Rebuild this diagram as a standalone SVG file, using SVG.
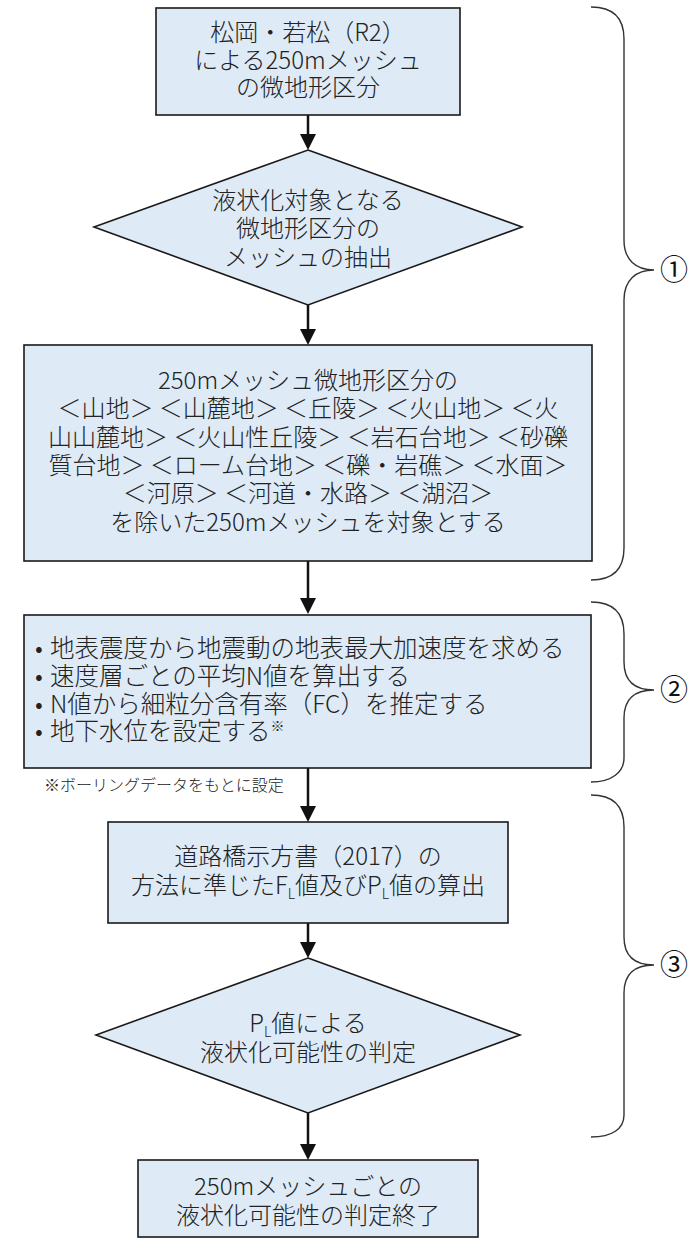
<svg xmlns="http://www.w3.org/2000/svg" width="690" height="1243" viewBox="0 0 690 1243">
<style>
.n{fill:#DEEAF6;stroke:#1a1a1a;stroke-width:1.6}
.t{font-family:"Noto Sans CJK JP","Noto Sans",sans-serif;font-size:24px;font-weight:300;fill:#222;text-anchor:middle}
.l{text-anchor:start;font-size:24.5px}
.fn{font-family:"Noto Sans CJK JP","Noto Sans",sans-serif;font-size:16px;font-weight:300;fill:#222}
.c{stroke:#111;stroke-width:2.5;fill:none}
.b{stroke:#333;stroke-width:1.4;fill:none}
.num{font-family:"Noto Sans CJK JP","Noto Sans",sans-serif;font-size:28px;fill:#111;text-anchor:middle}
.s{font-size:14px}
</style>
<defs>
<marker id="ah" markerWidth="16" markerHeight="16" refX="2" refY="8" orient="auto" markerUnits="userSpaceOnUse" viewBox="0 0 16 16"><path d="M0,0 L16,8 L0,16 z" fill="#111"/></marker>
</defs>
<g id="connectors">
<line class="c" x1="308" y1="115" x2="308" y2="136" marker-end="url(#ah)"/>
<line class="c" x1="308" y1="305" x2="308" y2="331" marker-end="url(#ah)"/>
<line class="c" x1="308" y1="561" x2="308" y2="600" marker-end="url(#ah)"/>
<line class="c" x1="308" y1="768" x2="308" y2="808" marker-end="url(#ah)"/>
<line class="c" x1="308" y1="907" x2="308" y2="944" marker-end="url(#ah)"/>
<line class="c" x1="308" y1="1113" x2="308" y2="1146" marker-end="url(#ah)"/>
</g>
<g id="n1">
<rect class="n" x="156" y="8" width="304" height="107"/>
<text class="t" x="308" y="41">松岡・若松（R2）<tspan x="308" dy="28">による250mメッシュ</tspan><tspan x="308" dy="27">の微地形区分</tspan></text>
</g>
<g id="n2">
<polygon class="n" points="308,150 522,227 308,305 94,227"/>
<text class="t" x="308" y="209">液状化対象となる<tspan x="308" dy="28">微地形区分の</tspan><tspan x="308" dy="29">メッシュの抽出</tspan></text>
</g>
<g id="n3">
<rect class="n" x="24" y="345" width="568" height="216"/>
<text class="t" x="308" y="389">250mメッシュ微地形区分の<tspan x="308" dy="28">＜山地＞ ＜山麓地＞ ＜丘陵＞ ＜火山地＞ ＜火</tspan><tspan x="308" dy="29">山山麓地＞ ＜火山性丘陵＞ ＜岩石台地＞ ＜砂礫</tspan><tspan x="308" dy="28">質台地＞ ＜ローム台地＞ ＜礫・岩礁＞ ＜水面＞</tspan><tspan x="308" dy="28">＜河原＞ ＜河道・水路＞ ＜湖沼＞</tspan><tspan x="308" dy="29">を除いた250mメッシュを対象とする</tspan></text>
</g>
<g id="n4">
<rect class="n" x="24" y="615" width="567" height="153"/>
<text class="t l" x="35" y="657">•<tspan x="50">地表震度から地震動の地表最大加速度を求める</tspan><tspan x="35" dy="28">•</tspan><tspan x="50">速度層ごとの平均N値を算出する</tspan><tspan x="35" dy="28">•</tspan><tspan x="50">N値から細粒分含有率（FC）を推定する</tspan><tspan x="35" dy="27">•</tspan><tspan x="50">地下水位を設定する</tspan><tspan class="s" dy="-9">※</tspan></text>
</g>
<g id="note">
<text class="fn" x="44" y="791">※ボーリングデータをもとに設定</text>
</g>
<g id="n5">
<rect class="n" x="108" y="822" width="400" height="101"/>
<text class="t" x="308" y="865">道路橋示方書（2017）の<tspan x="308" dy="29">方法に準じたF</tspan><tspan class="s" dy="5">L</tspan><tspan dy="-5">値及びP</tspan><tspan class="s" dy="5">L</tspan><tspan dy="-5">値の算出</tspan></text>
</g>
<g id="n6">
<polygon class="n" points="308,958 520,1035 308,1113 96,1035"/>
<text class="t" x="308" y="1032">P<tspan class="s" dy="5">L</tspan><tspan dy="-5">値による</tspan><tspan x="308" dy="29">液状化可能性の判定</tspan></text>
</g>
<g id="n7">
<rect class="n" x="138" y="1160" width="340" height="77"/>
<text class="t" x="308" y="1195">250mメッシュごとの<tspan x="308" dy="29">液状化可能性の判定終了</tspan></text>
</g>
<g id="braces">
<path class="b" d="M591,7 C612,7 624,17 624,39 V240 C624,260 636,270 654,270 C636,270 624,280 624,300 V548 C624,570 612,580 591,580"/>
<text class="num" x="674" y="280">①</text>
<path class="b" d="M591,602 C612,602 624,612 624,634 V662 C624,682 636,690 654,690 C636,690 624,698 624,718 V758 C624,772 612,782 591,782"/>
<text class="num" x="674" y="700">②</text>
<path class="b" d="M591,795 C612,795 624,805 624,827 V937 C624,957 636,965 654,965 C636,965 624,973 624,993 V1115 C624,1129 612,1137 591,1137"/>
<text class="num" x="674" y="975">③</text>
</g>
</svg>
